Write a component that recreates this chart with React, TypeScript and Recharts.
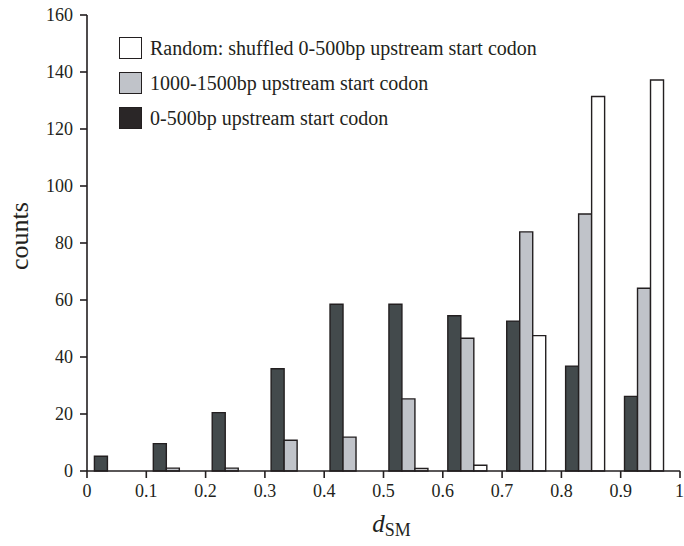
import { Bar, BarChart, XAxis, YAxis } from "recharts";

/** Bin starts along d_SM (each bin is 0.1 wide). */
const BIN_STARTS = [0, 0.1, 0.2, 0.3, 0.4, 0.5, 0.6, 0.7, 0.8, 0.9];

/** Counts per bin. */
const NEAR_COUNTS = [5.2, 9.6, 20.5, 35.9, 58.5, 58.5, 54.5, 52.6, 36.8, 26.2]; // 0-500bp
const FAR_COUNTS = [0, 1, 1, 10.8, 11.9, 25.3, 46.6, 83.9, 90.2, 64.1]; // 1000-1500bp
const SHUFFLED_COUNTS = [0, 0, 0, 0, 0, 0.9, 2, 47.5, 131.4, 137.2]; // random control

const X_TICKS = [0, 0.1, 0.2, 0.3, 0.4, 0.5, 0.6, 0.7, 0.8, 0.9, 1];
const X_TICK_LABELS = ["0", "0.1", "0.2", "0.3", "0.4", "0.5", "0.6", "0.7", "0.8", "0.9", "1"];
const Y_TICKS = [0, 20, 40, 60, 80, 100, 120, 140, 160];

const INK = "#231f20";
const FONT = '"Liberation Serif", "Times New Roman", serif';

const SERIES = [
  { key: "near", label: "0-500bp upstream start codon", fill: "#434a4c", swatch: "#2a2627" },
  { key: "far", label: "1000-1500bp upstream start codon", fill: "#c0c3c9", swatch: "#c0c3c9" },
  { key: "shuffled", label: "Random: shuffled 0-500bp upstream start codon", fill: "#ffffff", swatch: "#ffffff" },
];

// legend lists the control first
const LEGEND_ORDER = ["shuffled", "far", "near"];

const data = BIN_STARTS.map((start, i) => ({
  bin: X_TICK_LABELS[i],
  start,
  near: NEAR_COUNTS[i],
  far: FAR_COUNTS[i],
  shuffled: SHUFFLED_COUNTS[i],
}));

function LegendBox() {
  return (
    <div style={{ position: "absolute", top: 37, left: 119, fontFamily: FONT, fontSize: 20, color: INK }}>
      {LEGEND_ORDER.map((key) => {
        const s = SERIES.find((x) => x.key === key)!;
        return (
          <div key={key} style={{ display: "flex", alignItems: "center", height: 22, marginBottom: 13 }}>
            <span
              style={{
                width: 23,
                height: 22,
                boxSizing: "border-box",
                border: `1.5px solid ${INK}`,
                background: s.swatch,
                marginRight: 8,
                flexShrink: 0,
              }}
            />
            <span style={{ whiteSpace: "nowrap", lineHeight: "22px" }}>{s.label}</span>
          </div>
        );
      })}
    </div>
  );
}

function XTitle({ viewBox }: any) {
  const cx = (viewBox?.x ?? 87) + (viewBox?.width ?? 593) / 2 + 8;
  return (
    <text x={cx} y={532} textAnchor="middle" fill={INK} fontFamily={FONT}>
      <tspan fontStyle="italic" fontSize={25}>d</tspan>
      <tspan fontSize={18} dy={4}>SM</tspan>
    </text>
  );
}

const tickStyle = { fill: INK, fontSize: 18, fontFamily: FONT };

export default function App() {
  return (
    <div style={{ width: 684, height: 546, position: "relative" }}>
      <style>{"body{margin:0}"}</style>
      <BarChart
        width={684}
        height={546}
        data={data}
        margin={{ top: 15, right: 4, left: 0, bottom: 0 }}
        barCategoryGap="16%"
        barGap={0}
      >
        <XAxis
          xAxisId="num"
          dataKey="start"
          type="number"
          domain={[0, 1]}
          ticks={X_TICKS}
          tickFormatter={(v) => X_TICK_LABELS[X_TICKS.indexOf(v)] ?? `${v}`}
          height={75}
          tickSize={7}
          tickMargin={6}
          stroke={INK}
          strokeWidth={1.6}
          tick={tickStyle}
          label={<XTitle />}
        />
        <XAxis xAxisId="bins" dataKey="bin" hide height={0} padding={{ left: -2, right: 6 }} />
        <YAxis
          domain={[0, 160]}
          ticks={Y_TICKS}
          width={87}
          tickSize={7}
          tickMargin={7}
          stroke={INK}
          strokeWidth={1.6}
          tick={tickStyle}
        />
        {SERIES.map((s) => (
          <Bar
            key={s.key}
            xAxisId="bins"
            dataKey={s.key}
            fill={s.fill}
            stroke={INK}
            strokeWidth={1.4}
            isAnimationActive={false}
          />
        ))}
      </BarChart>
      <LegendBox />
      <svg width={684} height={546} style={{ position: "absolute", top: 0, left: 0, pointerEvents: "none" }}>
        <text x={28} y={236} transform="rotate(-90, 28, 236)" textAnchor="middle" fill={INK} fontFamily={FONT} fontSize={26}>
          counts
        </text>
      </svg>
    </div>
  );
}
